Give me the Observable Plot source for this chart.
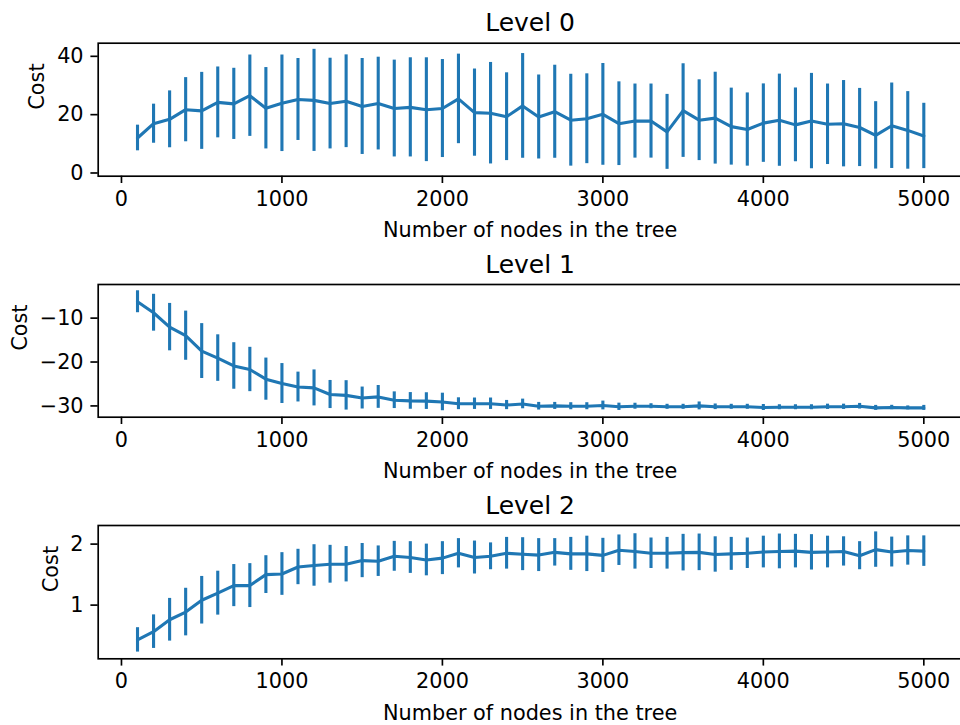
<!DOCTYPE html>
<html>
<head>
<meta charset="utf-8">
<script src="https://cdn.jsdelivr.net/npm/d3@7"></script>
<script src="https://cdn.jsdelivr.net/npm/@observablehq/plot@0.6"></script>
<style>
  html, body { margin: 0; padding: 0; background: white; }
  #chart { width: 960px; height: 725px; overflow: hidden; }
  #chart svg { display: block; }
</style>
</head>
<body>
<div id="chart"></div>
<script>
// Number of nodes in the tree
const nodes = [100, 200, 300, 400, 500, 600, 700, 800, 900, 1000,
  1100, 1200, 1300, 1400, 1500, 1600, 1700, 1800, 1900, 2000,
  2100, 2200, 2300, 2400, 2500, 2600, 2700, 2800, 2900, 3000,
  3100, 3200, 3300, 3400, 3500, 3600, 3700, 3800, 3900, 4000,
  4100, 4200, 4300, 4400, 4500, 4600, 4700, 4800, 4900, 5000];

// Level 0: mean cost and its error
const level0Mean = [12.0, 16.9, 18.4, 21.7, 21.3, 24.2, 23.7, 26.5, 22.2, 23.9,
  25.2, 24.9, 23.8, 24.6, 22.8, 23.8, 22.1, 22.5, 21.7, 22.1,
  25.4, 20.7, 20.5, 19.3, 23.0, 19.2, 21.0, 18.1, 18.6, 20.1,
  16.9, 17.8, 17.8, 14.1, 21.4, 18.1, 18.8, 15.9, 14.9, 17.1,
  18.1, 16.5, 17.8, 16.7, 16.9, 15.6, 12.9, 16.2, 14.6, 12.7];
const level0Err = [4.4, 6.7, 9.75, 11.0, 13.2, 12.15, 12.2, 13.95, 13.95, 16.55,
  14.05, 17.5, 15.55, 15.9, 16.45, 15.9, 16.6, 17.0, 17.8, 16.8,
  15.35, 14.95, 17.4, 15.05, 17.95, 14.4, 15.95, 15.75, 15.4, 17.45,
  14.35, 12.7, 12.7, 12.85, 16.05, 13.85, 15.75, 13.2, 12.55, 13.45,
  15.8, 12.65, 16.35, 13.8, 14.8, 13.4, 11.55, 14.65, 13.3, 11.2];

// Level 1: mean cost and its error
const level1Mean = [-6.27, -8.77, -12.05, -14.0, -17.5, -19.1, -20.9, -21.7, -23.9, -24.9,
  -25.7, -25.9, -27.4, -27.6, -28.2, -27.95, -28.7, -28.86, -28.9, -29.1,
  -29.5, -29.5, -29.5, -29.8, -29.55, -30.07, -30.0, -30.07, -30.07, -29.9,
  -30.2, -30.07, -30.07, -30.2, -30.2, -30.0, -30.2, -30.2, -30.2, -30.36,
  -30.3, -30.3, -30.3, -30.2, -30.2, -30.07, -30.45, -30.36, -30.45, -30.45];
const level1Err = [2.5, 4.2, 5.4, 5.6, 6.25, 5.3, 5.3, 5.05, 4.8, 4.55,
  3.4, 4.1, 3.2, 3.35, 2.5, 2.6, 1.9, 1.9, 1.9, 2.0,
  1.35, 1.3, 1.3, 1.05, 1.1, 0.87, 0.8, 0.8, 0.8, 1.0,
  0.83, 0.68, 0.57, 0.57, 0.57, 0.9, 0.64, 0.57, 0.57, 0.68,
  0.57, 0.57, 0.57, 0.6, 0.6, 0.64, 0.57, 0.5, 0.45, 0.57];

// Level 2: mean cost and its error
const level2Mean = [0.43, 0.565, 0.76, 0.886, 1.08, 1.196, 1.32, 1.32, 1.50, 1.51,
  1.625, 1.65, 1.67, 1.67, 1.73, 1.72, 1.80, 1.78, 1.74, 1.77,
  1.85, 1.78, 1.80, 1.85, 1.835, 1.82, 1.865, 1.84, 1.84, 1.815,
  1.90, 1.88, 1.85, 1.85, 1.86, 1.865, 1.83, 1.84, 1.85, 1.87,
  1.88, 1.885, 1.865, 1.87, 1.88, 1.81, 1.91, 1.87, 1.895, 1.885];
const level2Err = [0.2, 0.275, 0.35, 0.39, 0.39, 0.36, 0.345, 0.36, 0.31, 0.35,
  0.29, 0.34, 0.31, 0.29, 0.28, 0.25, 0.245, 0.26, 0.26, 0.27,
  0.24, 0.27, 0.22, 0.26, 0.27, 0.27, 0.225, 0.27, 0.29, 0.28,
  0.25, 0.29, 0.25, 0.26, 0.30, 0.30, 0.29, 0.27, 0.25, 0.26,
  0.285, 0.275, 0.29, 0.26, 0.24, 0.23, 0.29, 0.245, 0.24, 0.25];

// Axis ticks
const xTicks = [0, 1000, 2000, 3000, 4000, 5000];
const level0Ticks = [0, 20, 40];
const level1Ticks = [-30, -20, -10];
const level2Ticks = [1, 2];

const titles = ["Level 0", "Level 1", "Level 2"];
const xLabel = "Number of nodes in the tree";
const yLabel = "Cost";

const blue = "#1f77b4";
const fmt = d3.format("d");

function panel({title, mean, err, yDomain, yTicks, yLabelDx, height, marginTop, marginBottom}) {
  const rows = nodes.map((n, i) => ({n, m: mean[i], lo: mean[i] - err[i], hi: mean[i] + err[i]}));
  return Plot.plot({
    width: 960,
    height,
    marginLeft: 97.7,
    marginRight: -1.5,
    marginTop,
    marginBottom,
    style: {fontFamily: "'DejaVu Sans', sans-serif", fontSize: "20.8px", color: "black", background: "white", overflow: "visible"},
    x: {domain: [-145, 5238]},
    y: {domain: yDomain},
    marks: [
      Plot.ruleX(rows, {x: "n", y1: "lo", y2: "hi", stroke: blue, strokeWidth: 3.1}),
      Plot.lineY(rows, {x: "n", y: "m", stroke: blue, strokeWidth: 3.1}),
      Plot.axisX({ticks: xTicks, tickFormat: fmt, tickSize: 7.3, tickPadding: 7.3, strokeWidth: 1.67, fontSize: 20.8, label: null}),
      Plot.axisY({ticks: yTicks, tickFormat: fmt, tickSize: 7.3, tickPadding: 7.3, strokeWidth: 1.67, fontSize: 20.8, label: null}),
      Plot.frame({stroke: "black", strokeWidth: 1.67}),
      Plot.text([title], {frameAnchor: "top", lineAnchor: "bottom", dy: -12, fontSize: 25, fill: "black"}),
      Plot.text([xLabel], {frameAnchor: "bottom", lineAnchor: "bottom", dy: 61, fontSize: 20.8, fill: "black"}),
      Plot.text([yLabel], {frameAnchor: "left", lineAnchor: "middle", rotate: -90, dx: yLabelDx, fontSize: 20.8, fill: "black"})
    ]
  });
}

const chart = document.getElementById("chart");
chart.append(
  panel({title: titles[0], mean: level0Mean, err: level0Err, yDomain: [-1.1, 44.5], yTicks: level0Ticks, yLabelDx: -60.8, height: 242, marginTop: 42.7, marginBottom: 66.3}),
  panel({title: titles[1], mean: level1Mean, err: level1Err, yDomain: [-32.57, -2.34], yTicks: level1Ticks, yLabelDx: -78, height: 241, marginTop: 42, marginBottom: 66.3}),
  panel({title: titles[2], mean: level2Mean, err: level2Err, yDomain: [0.12, 2.305], yTicks: level2Ticks, yLabelDx: -46.8, height: 242, marginTop: 42, marginBottom: 66.7})
);
</script>
</body>
</html>
